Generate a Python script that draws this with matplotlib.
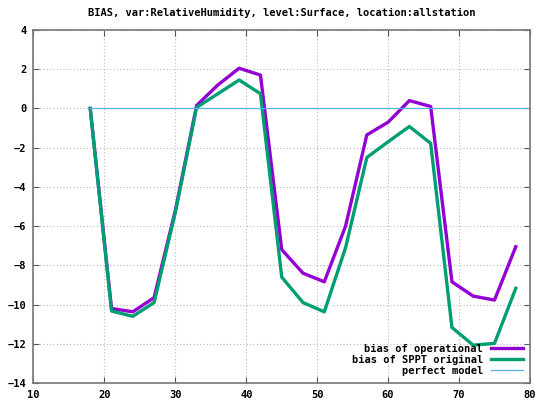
import matplotlib
matplotlib.use('Agg')
import matplotlib.pyplot as plt

# forecast hours
hours = [18, 21, 24, 27, 30, 33, 36, 39, 42, 45, 48, 51, 54, 57, 60, 63, 66, 69, 72, 75, 78]
bias_oper = [0.0, -10.2, -10.37, -9.65, -5.2, 0.15, 1.2, 2.05, 1.7, -7.2, -8.4, -8.84, -6.0,
             -1.35, -0.7, 0.4, 0.1, -8.84, -9.57, -9.77, -7.05]
bias_sppt = [0.0, -10.33, -10.6, -9.9, -5.3, 0.05, 0.75, 1.45, 0.75, -8.6, -9.9, -10.37, -7.1,
             -2.5, -1.7, -0.92, -1.78, -11.17, -12.07, -11.98, -9.17]
perfect_x = [18, 80]
perfect_y = [0, 0]

font = {'family': 'DejaVu Sans Mono', 'weight': 'bold', 'size': 7.5}

fig = plt.figure(figsize=(5.35, 4.03), dpi=100)
ax = fig.add_axes([0.0626, 0.0496, 0.928, 0.876])

ax.plot(hours, bias_oper, color='#9400d3', lw=2.4, label='bias of operational')
ax.plot(hours, bias_sppt, color='#009e73', lw=2.4, label='bias of SPPT original')
ax.plot(perfect_x, perfect_y, color='#56b4e9', lw=0.9, label='perfect model')

ax.set_xlim(10, 80)
ax.set_ylim(-14, 4)
ax.set_xticks(range(10, 81, 10))
ax.set_yticks(range(-14, 5, 2))
ax.grid(True, color='#bbbbbb', ls=(0, (1, 2)), lw=0.8)
ax.tick_params(direction='in', top=True, right=True, length=4, pad=5, colors='#555555')
for lab in ax.get_xticklabels() + ax.get_yticklabels():
    lab.set_fontproperties(font)
    lab.set_color('black')
for s in ax.spines.values():
    s.set_color('#777777')
    s.set_linewidth(1.2)

ax.set_title('BIAS, var:RelativeHumidity, level:Surface, location:allstation',
             fontdict=font, pad=10)

leg = ax.legend(loc='lower right', frameon=False, markerfirst=False, prop=font,
                handlelength=3.0, labelspacing=0.1, borderaxespad=0.3, handletextpad=0.8)
for t in leg.get_texts():
    t.set_ha('right')
leg._legend_box.align = 'right'

fig.savefig('out.png', dpi=100)
